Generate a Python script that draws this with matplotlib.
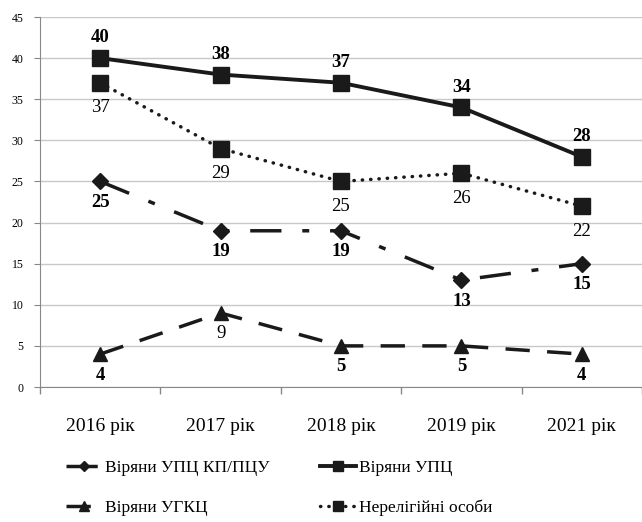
import matplotlib
matplotlib.use("Agg")
import matplotlib.pyplot as plt

categories = ["2016 рік", "2017 рік", "2018 рік", "2019 рік", "2021 рік"]
kp_pcu = [25, 19, 19, 13, 15]
upc = [40, 38, 37, 34, 28]
ugkc = [4, 9, 5, 5, 4]
nonrel = [37, 29, 25, 26, 22]
yticks = [0, 5, 10, 15, 20, 25, 30, 35, 40, 45]

labels = ["Віряни УПЦ КП/ПЦУ", "Віряни УПЦ", "Віряни УГКЦ", "Нерелігійні особи"]

plt.rcParams['font.family'] = ['Liberation Serif', 'DejaVu Serif']

fig = plt.figure(figsize=(6.42, 5.22), dpi=100)
ax = fig.add_axes([40/642, 1-387/522, 1-40/642, (387-17)/522])

x = list(range(len(categories)))
c = '#1a1a1a'

l1, = ax.plot(x, kp_pcu, color=c, lw=2.5, dashes=(9, 6, 2, 6), marker='D', ms=8,
              label=labels[0], zorder=3)
l2, = ax.plot(x, upc, color=c, lw=2.8, marker='s', ms=11, label=labels[1], zorder=3)
l3, = ax.plot(x, ugkc, color=c, lw=2.5, dashes=(7, 5), marker='^', ms=10,
              label=labels[2], zorder=3)
l4, = ax.plot(x, nonrel, color=c, lw=2.5, linestyle=(0, (0.1, 2.3)), dash_capstyle='round',
              marker='s', ms=11, label=labels[3], zorder=3)

fs = 13.5
for xi, v in zip(x, upc):
    ax.annotate(str(v), (xi, v), xytext=(0, 8.5), textcoords='offset points',
                ha='center', va='bottom', fontsize=fs, fontweight='bold')
for xi, v in zip(x, nonrel):
    ax.annotate(str(v), (xi, v), xytext=(0, -12), textcoords='offset points',
                ha='center', va='top', fontsize=fs)
for xi, v in zip(x, kp_pcu):
    ax.annotate(str(v), (xi, v), xytext=(0, -9), textcoords='offset points',
                ha='center', va='top', fontsize=fs, fontweight='bold')
for i, (xi, v) in enumerate(zip(x, ugkc)):
    ax.annotate(str(v), (xi, v), xytext=(0, -9), textcoords='offset points',
                ha='center', va='top', fontsize=fs,
                fontweight='normal' if i == 1 else 'bold')

ax.set_ylim(0, 45)
ax.set_yticks(yticks)
ax.set_xlim(-0.5, -0.5 + (642-40)/122)
ax.set_xticks([i - 0.5 for i in range(len(categories))] + [4.5], minor=False)
ax.set_xticklabels([])
ax.set_xticks(x, minor=True)
ax.set_xticklabels(categories, minor=True, fontsize=14)
ax.tick_params(axis='x', which='major', length=5, color='#888888', width=1)
ax.tick_params(axis='x', which='minor', length=0, pad=22)
ax.tick_params(axis='y', length=4, color='#888888', labelsize=8.5, pad=8)
ax.grid(axis='y', color='#c8c8c8', lw=1)
ax.set_axisbelow(True)
for s in ['top', 'right']:
    ax.spines[s].set_visible(False)
for s in ['left', 'bottom']:
    ax.spines[s].set_color('#888888')

fig.legend(handles=[l1, l3, l2, l4], loc='center left', bbox_to_anchor=(50/642, 0.065),
           ncol=2, frameon=False, prop={'family': 'Liberation Serif', 'size': 12.5},
           columnspacing=2.9, handlelength=2.1, handletextpad=0.15, labelspacing=1.38,
           markerscale=0.7)

fig.savefig("out.png", dpi=100)
